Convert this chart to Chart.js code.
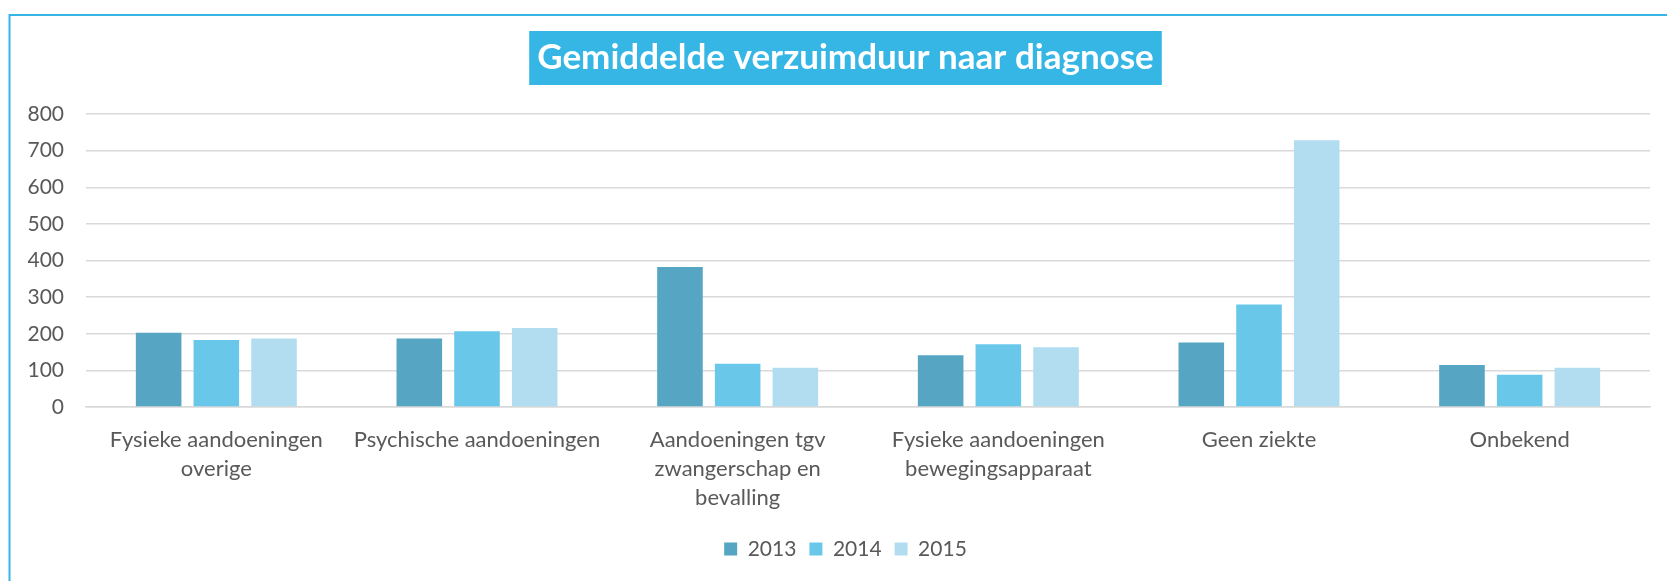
<!DOCTYPE html>
<html>
<head>
<meta charset="utf-8">
<script src="https://cdn.jsdelivr.net/npm/chart.js@4"></script>
<style>
  html, body { margin: 0; padding: 0; background: #ffffff; }
  #wrap { position: relative; width: 1667px; height: 581px; overflow: hidden; }
</style>
</head>
<body>
<div id="wrap"><canvas id="c" width="1667" height="581"></canvas></div>
<script>
const titleText = "Gemiddelde verzuimduur naar diagnose";
const categories = [
  ["Fysieke aandoeningen", "overige"],
  "Psychische aandoeningen",
  ["Aandoeningen tgv", "zwangerschap en", "bevalling"],
  ["Fysieke aandoeningen", "bewegingsapparaat"],
  "Geen ziekte",
  "Onbekend"
];
const seriesNames = ["2013", "2014", "2015"];
const values2013 = [203, 187, 382, 141, 176, 115];
const values2014 = [183, 207, 118, 171, 280, 88];
const values2015 = [187, 216, 107, 163, 728, 107];
const yMin = 0, yMax = 800, yStep = 100;

const colors = ["#55A5C3", "#69C8EA", "#B2DDF1"];
const frameColor = "#36B6E5";
const textColor = "#595959";
const gridColor = "#D9D9D9";
const FONT = "Lato, 'Open Sans', sans-serif";

const TITLE_SIZE = 35, TITLE_LH = 1.2, TITLE_PAD_TOP = 37, TITLE_PAD_BOTTOM = 35;

const framePlugin = {
  id: "frameAndTitleBox",
  beforeDraw(chart) {
    const ctx = chart.ctx;
    ctx.save();
    ctx.strokeStyle = frameColor;
    ctx.lineWidth = 2;
    ctx.beginPath();
    ctx.moveTo(9.5, chart.height + 5);
    ctx.lineTo(9.5, 15);
    ctx.lineTo(chart.width + 5, 15);
    ctx.stroke();
    const tb = chart.titleBlock;
    if (tb) {
      ctx.font = "bold " + TITLE_SIZE + "px " + FONT;
      const w = ctx.measureText(titleText).width + 16;
      const cx = (tb.left + tb.right) / 2;
      const cy = tb.top + TITLE_PAD_TOP + TITLE_SIZE * TITLE_LH / 2;
      ctx.fillStyle = frameColor;
      ctx.fillRect(cx - w / 2, cy - 27, w, 54);
    }
    ctx.restore();
  }
};

new Chart(document.getElementById("c"), {
  type: "bar",
  data: {
    labels: categories,
    datasets: [
      { label: seriesNames[0], data: values2013, backgroundColor: colors[0] },
      { label: seriesNames[1], data: values2014, backgroundColor: colors[1] },
      { label: seriesNames[2], data: values2015, backgroundColor: colors[2] }
    ]
  },
  options: {
    responsive: false,
    animation: false,
    devicePixelRatio: 1,
    layout: { padding: { left: 26, right: 2, top: 0, bottom: 11.5 } },
    datasets: { bar: { categoryPercentage: 0.664, barPercentage: 0.79 } },
    plugins: {
      title: {
        display: true,
        text: titleText,
        color: "#FFFFFF",
        font: { family: FONT, size: TITLE_SIZE, weight: "bold", lineHeight: TITLE_LH },
        padding: { top: TITLE_PAD_TOP, bottom: TITLE_PAD_BOTTOM }
      },
      legend: {
        display: true,
        position: "bottom",
        labels: {
          color: textColor,
          font: { family: FONT, size: 21 },
          boxWidth: 13,
          boxHeight: 13,
          padding: 13
        }
      },
      tooltip: { enabled: false }
    },
    scales: {
      x: {
        grid: { display: false, drawTicks: false },
        border: { display: true, color: gridColor, width: 1.5 },
        ticks: {
          color: textColor,
          font: { family: FONT, size: 22, lineHeight: 1.32 },
          padding: 18.5,
          autoSkip: false,
          maxRotation: 0,
          minRotation: 0
        },
        afterFit(scale) { scale.height = 118.5; }
      },
      y: {
        min: yMin,
        max: yMax,
        grid: { color: gridColor, lineWidth: 1.5, drawTicks: false },
        border: { display: false },
        ticks: {
          stepSize: yStep,
          color: textColor,
          font: { family: FONT, size: 21 },
          padding: 22
        },
        afterFit(scale) { scale.width = 60; }
      },
      ySpacer: {
        type: "linear",
        position: "right",
        display: true,
        grid: { display: false, drawTicks: false },
        border: { display: false },
        ticks: { display: false },
        afterFit(scale) { scale.width = 15; }
      }
    }
  },
  plugins: [framePlugin]
});
</script>
</body>
</html>
